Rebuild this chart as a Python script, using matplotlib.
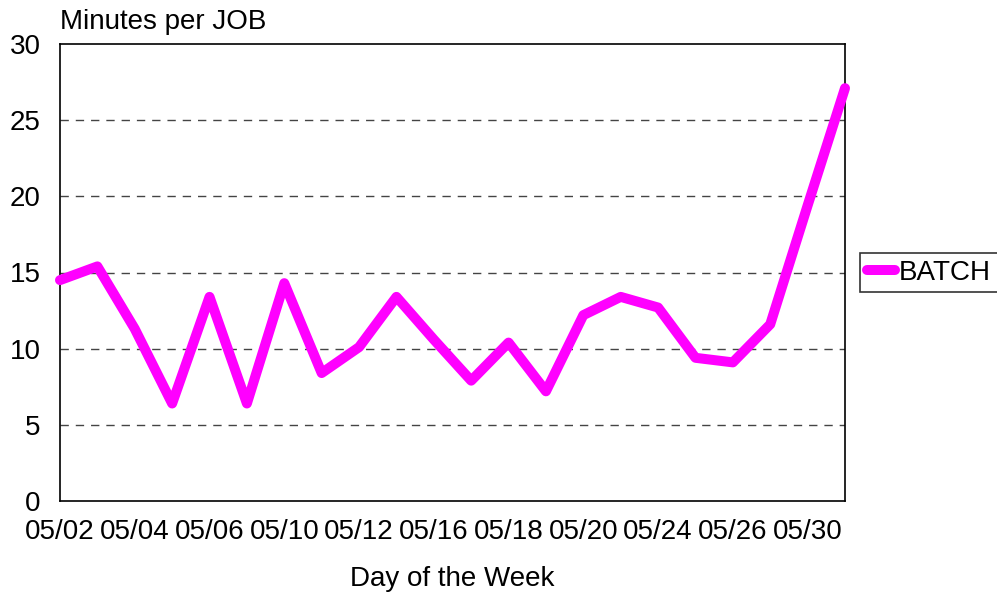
import matplotlib
matplotlib.use("Agg")
import matplotlib.pyplot as plt

plt.rcParams['font.family'] = ['Liberation Sans', 'DejaVu Sans']

days = ['05/02', '05/03', '05/04', '05/05', '05/06', '05/09', '05/10', '05/11',
        '05/12', '05/13', '05/16', '05/17', '05/18', '05/19', '05/20', '05/23',
        '05/24', '05/25', '05/26', '05/27', '05/30', '05/31']
batch = [14.5, 15.4, 11.3, 6.4, 13.4, 6.4, 14.3, 8.4, 10.1, 13.4, 10.6, 7.9,
         10.4, 7.2, 12.2, 13.4, 12.7, 9.4, 9.1, 11.6, 19.4, 27.1]
y_ticks = [0, 5, 10, 15, 20, 25, 30]

fig = plt.figure(figsize=(9.97, 5.92), dpi=100)
ax = fig.add_axes([60 / 997, 1 - 501 / 592, 785 / 997, 457 / 592])

x = range(len(days))
ax.plot(x, batch, color='#FF00FF', linewidth=7.2, solid_capstyle='round',
        solid_joinstyle='round', label='BATCH', zorder=3, clip_on=False)

ax.set_xlim(0, len(days) - 1)
ax.set_ylim(0, 30)
ax.set_yticks(y_ticks)
ax.set_xticks(list(x)[::2])
ax.set_xticklabels(days[::2])
ax.tick_params(axis='both', length=0, labelsize=20)
ax.tick_params(axis='y', pad=14)
ax.tick_params(axis='x', pad=13)

for v in y_ticks[1:-1]:
    ax.axhline(v, color='#444444', linewidth=1, linestyle=(0, (6, 5)), zorder=1)

for s in ax.spines.values():
    s.set_color('black')
    s.set_linewidth(1.2)

ax.text(0, 1.02, 'Minutes per JOB', transform=ax.transAxes, fontsize=20,
        ha='left', va='bottom')
ax.set_xlabel('Day of the Week', fontsize=20, labelpad=15)

leg = ax.legend(loc='center left', bbox_to_anchor=(1.019, 0.5), fontsize=20,
                frameon=True, fancybox=False, handlelength=1.0,
                handletextpad=0.15, borderpad=0.25, borderaxespad=0)
leg.get_frame().set_edgecolor('black')
leg.get_frame().set_linewidth(1.2)

fig.savefig('out.png', dpi=100)
